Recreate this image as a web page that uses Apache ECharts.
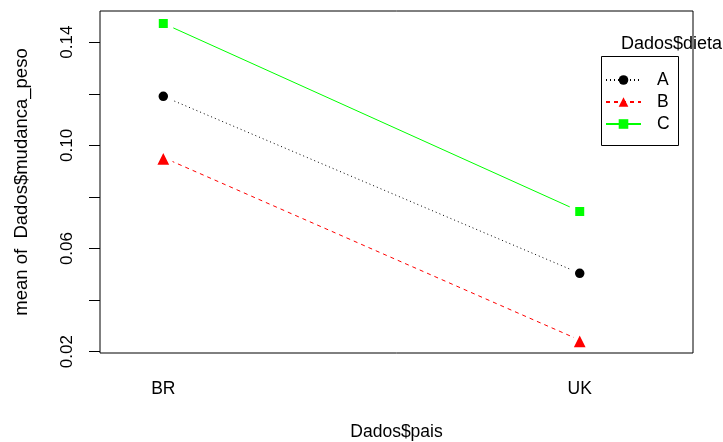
<!DOCTYPE html>
<html>
<head>
<meta charset="utf-8">
<script src="https://cdn.jsdelivr.net/npm/echarts@6/dist/echarts.min.js"></script>
<style>html,body{margin:0;padding:0;background:#fff;}#c{width:723px;height:442px;}</style>
</head>
<body>
<div id="c"></div>
<script>
var paises = ["BR", "UK"];
var dietas = ["A", "B", "C"];
var meanA = [0.1190, 0.0504];
var meanB = [0.0953, 0.0245];
var meanC = [0.1473, 0.0744];
var yTicks = [0.02, 0.04, 0.06, 0.08, 0.10, 0.12, 0.14];
var yLabels = [0.02, 0.06, 0.10, 0.14];

var FONT = '"Liberation Sans", Arial, Helvetica, sans-serif';
var chart = echarts.init(document.getElementById('c'), null, {renderer: 'canvas'});

function pts(arr) { return arr.map(function (v, i) { return [i + 1, v]; }); }

var styles = [
  {color: '#000000', dash: [1, 3], symbol: 'circle', size: 15, bw: 5.5},
  {color: '#FF0000', dash: [4, 4], symbol: 'triangle', size: 19, bw: 4.5},
  {color: '#00FF00', dash: 'solid', symbol: 'rect', size: 14.5, bw: 5.5}
];
var vals = [meanA, meanB, meanC];

var series = dietas.map(function (d, k) {
  var s = styles[k];
  return {
    name: d,
    type: 'line',
    data: pts(vals[k]),
    symbol: s.symbol,
    symbolSize: s.size,
    showAllSymbol: true,
    lineStyle: {color: s.color, width: 1, type: s.dash},
    itemStyle: {color: s.color, borderColor: '#ffffff', borderWidth: s.bw, opacity: 1},
    emphasis: {disabled: true},
    animation: false,
    z: 3
  };
});

chart.setOption({
  backgroundColor: '#ffffff',
  animation: false,
  textStyle: {fontFamily: FONT},
  grid: {left: 100, right: 30, top: 11, bottom: 89, outerBoundsMode: 'none', containLabel: false,
         show: true, borderColor: '#000', borderWidth: 1, backgroundColor: 'transparent'},
  title: {
    text: 'Dados$dieta', left: 616, top: 30,
    textStyle: {fontFamily: FONT, fontSize: 18, fontWeight: 'normal', color: '#000'}
  },
  legend: {
    orient: 'vertical', left: 600, top: 66,
    itemWidth: 35, itemHeight: 12, itemGap: 4,
    data: dietas,
    itemStyle: {borderWidth: 0},
    textStyle: {fontFamily: FONT, fontSize: 17.5, color: '#000', padding: [0, 0, 0, 11]}
  },
  graphic: [
    {type: 'rect', shape: {x: 601.5, y: 56.5, width: 77, height: 89}, style: {fill: 'none', stroke: '#000', lineWidth: 1}, z: 10}
  ],
  xAxis: {
    type: 'value', min: 0.848, max: 2.272,
    name: 'Dados$pais', nameLocation: 'middle', nameGap: 70,
    nameTextStyle: {fontFamily: FONT, fontSize: 17.5, color: '#000'},
    axisLine: {show: false}, axisTick: {show: false}, splitLine: {show: false},
    axisLabel: {
      customValues: [1, 2], margin: 27, fontFamily: FONT, fontSize: 17.5, color: '#000',
      formatter: function (v) { return paises[Math.round(v) - 1] || ''; }
    }
  },
  yAxis: {
    type: 'value', min: 0.0195, max: 0.1521,
    name: 'mean of  Dados$mudanca_peso', nameLocation: 'middle', nameGap: 69, nameRotate: 90,
    nameTextStyle: {fontFamily: FONT, fontSize: 18.5, color: '#000'},
    axisLine: {show: false}, splitLine: {show: false},
    axisTick: {show: true, customValues: yTicks, length: 11, inside: false, lineStyle: {color: '#000', width: 1}},
    axisLabel: {
      customValues: yLabels, rotate: 90, margin: 24, fontFamily: FONT, fontSize: 17, color: '#000',
      formatter: function (v) { return v.toFixed(2); }
    }
  },
  series: series
});
</script>
</body>
</html>
